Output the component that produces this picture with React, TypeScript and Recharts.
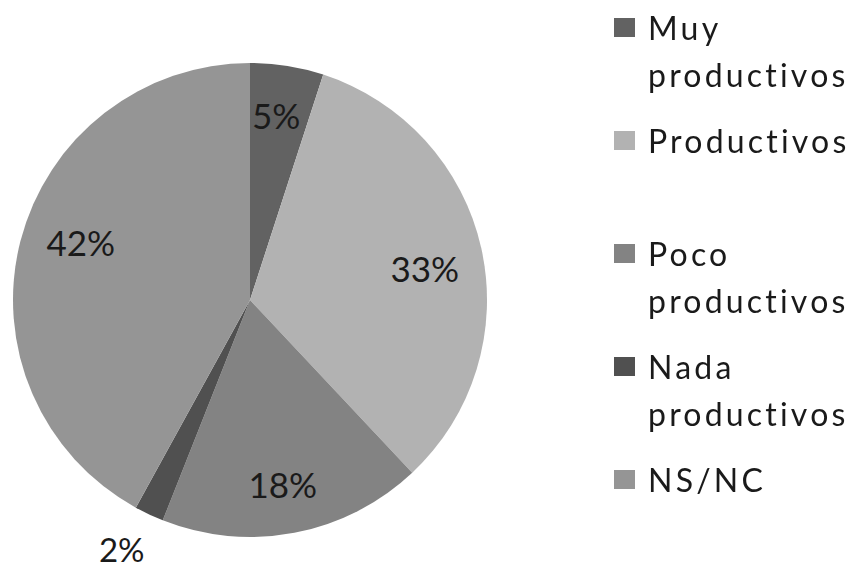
import React from 'react';
import { PieChart, Pie, Cell, Legend } from 'recharts';

// Categories and shares (%)
const categories = ['Muy productivos', 'Productivos', 'Poco productivos', 'Nada productivos', 'NS/NC'];
const shares = [5, 33, 18, 2, 42];
const legendLines = [['Muy', 'productivos'], ['Productivos'], ['Poco', 'productivos'], ['Nada', 'productivos'], ['NS/NC']];

const COLORS = ['#626262', '#b2b2b2', '#838383', '#505050', '#959595'];
// label placement: fraction of radius and small angle nudge (deg)
const LABEL_RADIUS = [0.79, 0.75, 0.79, 1.18, 0.755];
const LABEL_SHIFT = [1, -2.2, -0.7, -2.1, -4.6];
const FONT = 'Lato, "Open Sans", sans-serif';

const data = categories.map((name, i) => ({ name, value: shares[i] }));

const RADIAN = Math.PI / 180;

const renderLabel = ({ cx, cy, midAngle, outerRadius, index, value }: any) => {
    const r = outerRadius * LABEL_RADIUS[index];
    const a = midAngle + LABEL_SHIFT[index];
    const x = cx + r * Math.cos(-a * RADIAN);
    const y = cy + r * Math.sin(-a * RADIAN);
    return (
        <text
            x={x}
            y={y}
            fill="#1a1a1a"
            textAnchor="middle"
            dominantBaseline="central"
            fontFamily={FONT}
            fontSize={index === 3 ? 33 : 35}
        >
            {`${value}%`}
        </text>
    );
};

const renderLegend = () => (
    <div style={{ fontFamily: FONT, fontSize: 32, color: '#1a1a1a' }}>
        {legendLines.map((lines, i) => (
            <div key={i} style={{ display: 'flex', alignItems: 'flex-start', marginBottom: i === 1 ? 66 : 19 }}>
                <span
                    style={{
                        display: 'inline-block',
                        width: 21,
                        height: 19,
                        background: COLORS[i],
                        marginTop: 14,
                        marginRight: 13,
                        flexShrink: 0,
                    }}
                />
                <div style={{ lineHeight: '47px', letterSpacing: 3.2, whiteSpace: 'nowrap' }}>
                    {lines.map((l, j) => (
                        <div key={j}>{l}</div>
                    ))}
                </div>
            </div>
        ))}
    </div>
);

export default function App() {
    return (
        <div style={{ position: 'fixed', left: 0, top: 0, width: 853, height: 569, background: '#fff' }}>
            <PieChart width={853} height={569} margin={{ top: 0, right: 0, bottom: 0, left: 0 }}>
                <Pie
                    data={data}
                    dataKey="value"
                    nameKey="name"
                    cx={250}
                    cy={300}
                    outerRadius={237}
                    startAngle={90}
                    endAngle={-270}
                    stroke="none"
                    label={renderLabel}
                    labelLine={false}
                    isAnimationActive={false}
                >
                    {data.map((entry, index) => (
                        <Cell key={`cell-${index}`} fill={COLORS[index]} />
                    ))}
                </Pie>
                <Legend
                    content={renderLegend}
                    layout="vertical"
                    wrapperStyle={{ position: 'absolute', left: 614, top: 4, width: 240 }}
                />
            </PieChart>
        </div>
    );
}
